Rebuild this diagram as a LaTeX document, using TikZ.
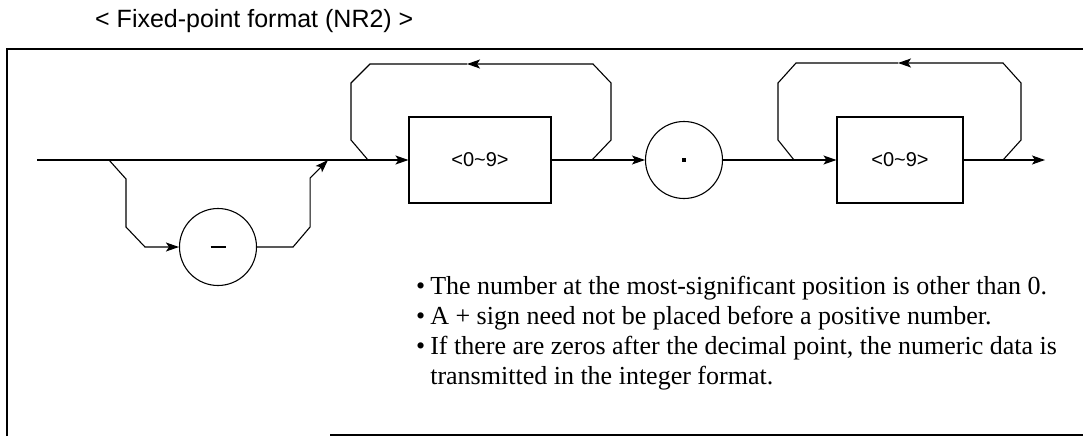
\documentclass[tikz,border=0pt]{standalone}
\usepackage{fontspec}
\setmainfont{Liberation Serif}
\setsansfont{Liberation Sans}
\usetikzlibrary{arrows.meta}

\tikzset{
  flow/.style={line width=1.1pt},
  flowarrow/.style={flow,-{Stealth[length=13pt,width=9pt,inset=3pt]}},
  digitbox/.style={draw,line width=1.1pt,minimum width=142pt,minimum height=86pt,
    inner sep=0pt,font=\sffamily\fontsize{20}{20}\selectfont},
  charcircle/.style={draw,circle,line width=1.1pt,minimum size=77pt,inner sep=0pt},
}

\begin{document}
\begin{tikzpicture}[x=1pt,y=-1pt]
\useasboundingbox (0,0) rectangle (1083,436);

% title and frame
\node[anchor=west,inner sep=0pt,font=\sffamily\fontsize{25}{25}\selectfont] (title) at (95,21)
  {< Fixed-point format (NR2) >};
\draw[flow] (7,436) -- (7,49) -- (1083,49);
\draw[flow] (330,435) -- (1083,435);

% syntax elements
\node[charcircle] (minus) at (218,247) {\rule[-0.6pt]{15pt}{1.2pt}};
\node[digitbox] (digitsA) at (480,160) {<0\textasciitilde9>};
\node[charcircle] (point) at (684,160) {\rule[-1.8pt]{3.6pt}{3.6pt}};
\node[digitbox,minimum width=126pt] (digitsB) at (900,160) {<0\textasciitilde9>};

\coordinate (start) at (37,160);
\coordinate (splitA) at (109,160);
\coordinate (joinA) at (328,160);
\coordinate (loopAin) at (368,160);
\coordinate (loopAout) at (592,160);
\coordinate (loopAtop) at (467,64);
\coordinate (loopBin) at (794,160);
\coordinate (loopBout) at (1003,160);
\coordinate (loopBtop) at (898,63);
\coordinate (end) at (1045,160);

% main line
\draw[flowarrow] (start) -- (digitsA.west);
\draw[flowarrow] (digitsA.east) -- (point.west);
\draw[flowarrow] (point.east) -- (digitsB.west);
\draw[flowarrow] (digitsB.east) -- (end);

% optional sign
\draw[flowarrow] (splitA) -- ++(17,19) -- ++(0,48) -- ++(19,20) -- (minus.west);
\draw[flowarrow] (minus.east) -- ++(36,0) -- ++(17,-20) -- ++(0,-49) -- (joinA);

% repeat loops
\draw[flowarrow] (loopAout) -- ++(19,-20) -- ++(0,-57) -- ++(-18,-19) -- (loopAtop);
\draw[flow] (loopAtop) -- (370,64) -- ++(-19,19) -- ++(0,57) -- (loopAin);
\draw[flowarrow] (loopBout) -- ++(18,-20) -- ++(0,-57) -- ++(-18,-20) -- (loopBtop);
\draw[flow] (loopBtop) -- (796,63) -- ++(-18,20) -- ++(0,57) -- (loopBin);

% notes
\node[anchor=base west,inner sep=0pt,font=\fontsize{26}{30}\selectfont] (notes) at (416,294)
  {\begin{tabular}[t]{@{}l@{\hspace{5pt}}l@{}}
   \textbullet & The number at the most-significant position is other than 0.\\
   \textbullet & A + sign need not be placed before a positive number.\\
   \textbullet & If there are zeros after the decimal point, the numeric data is\\
               & transmitted in the integer format.
   \end{tabular}};
\end{tikzpicture}
\end{document}
